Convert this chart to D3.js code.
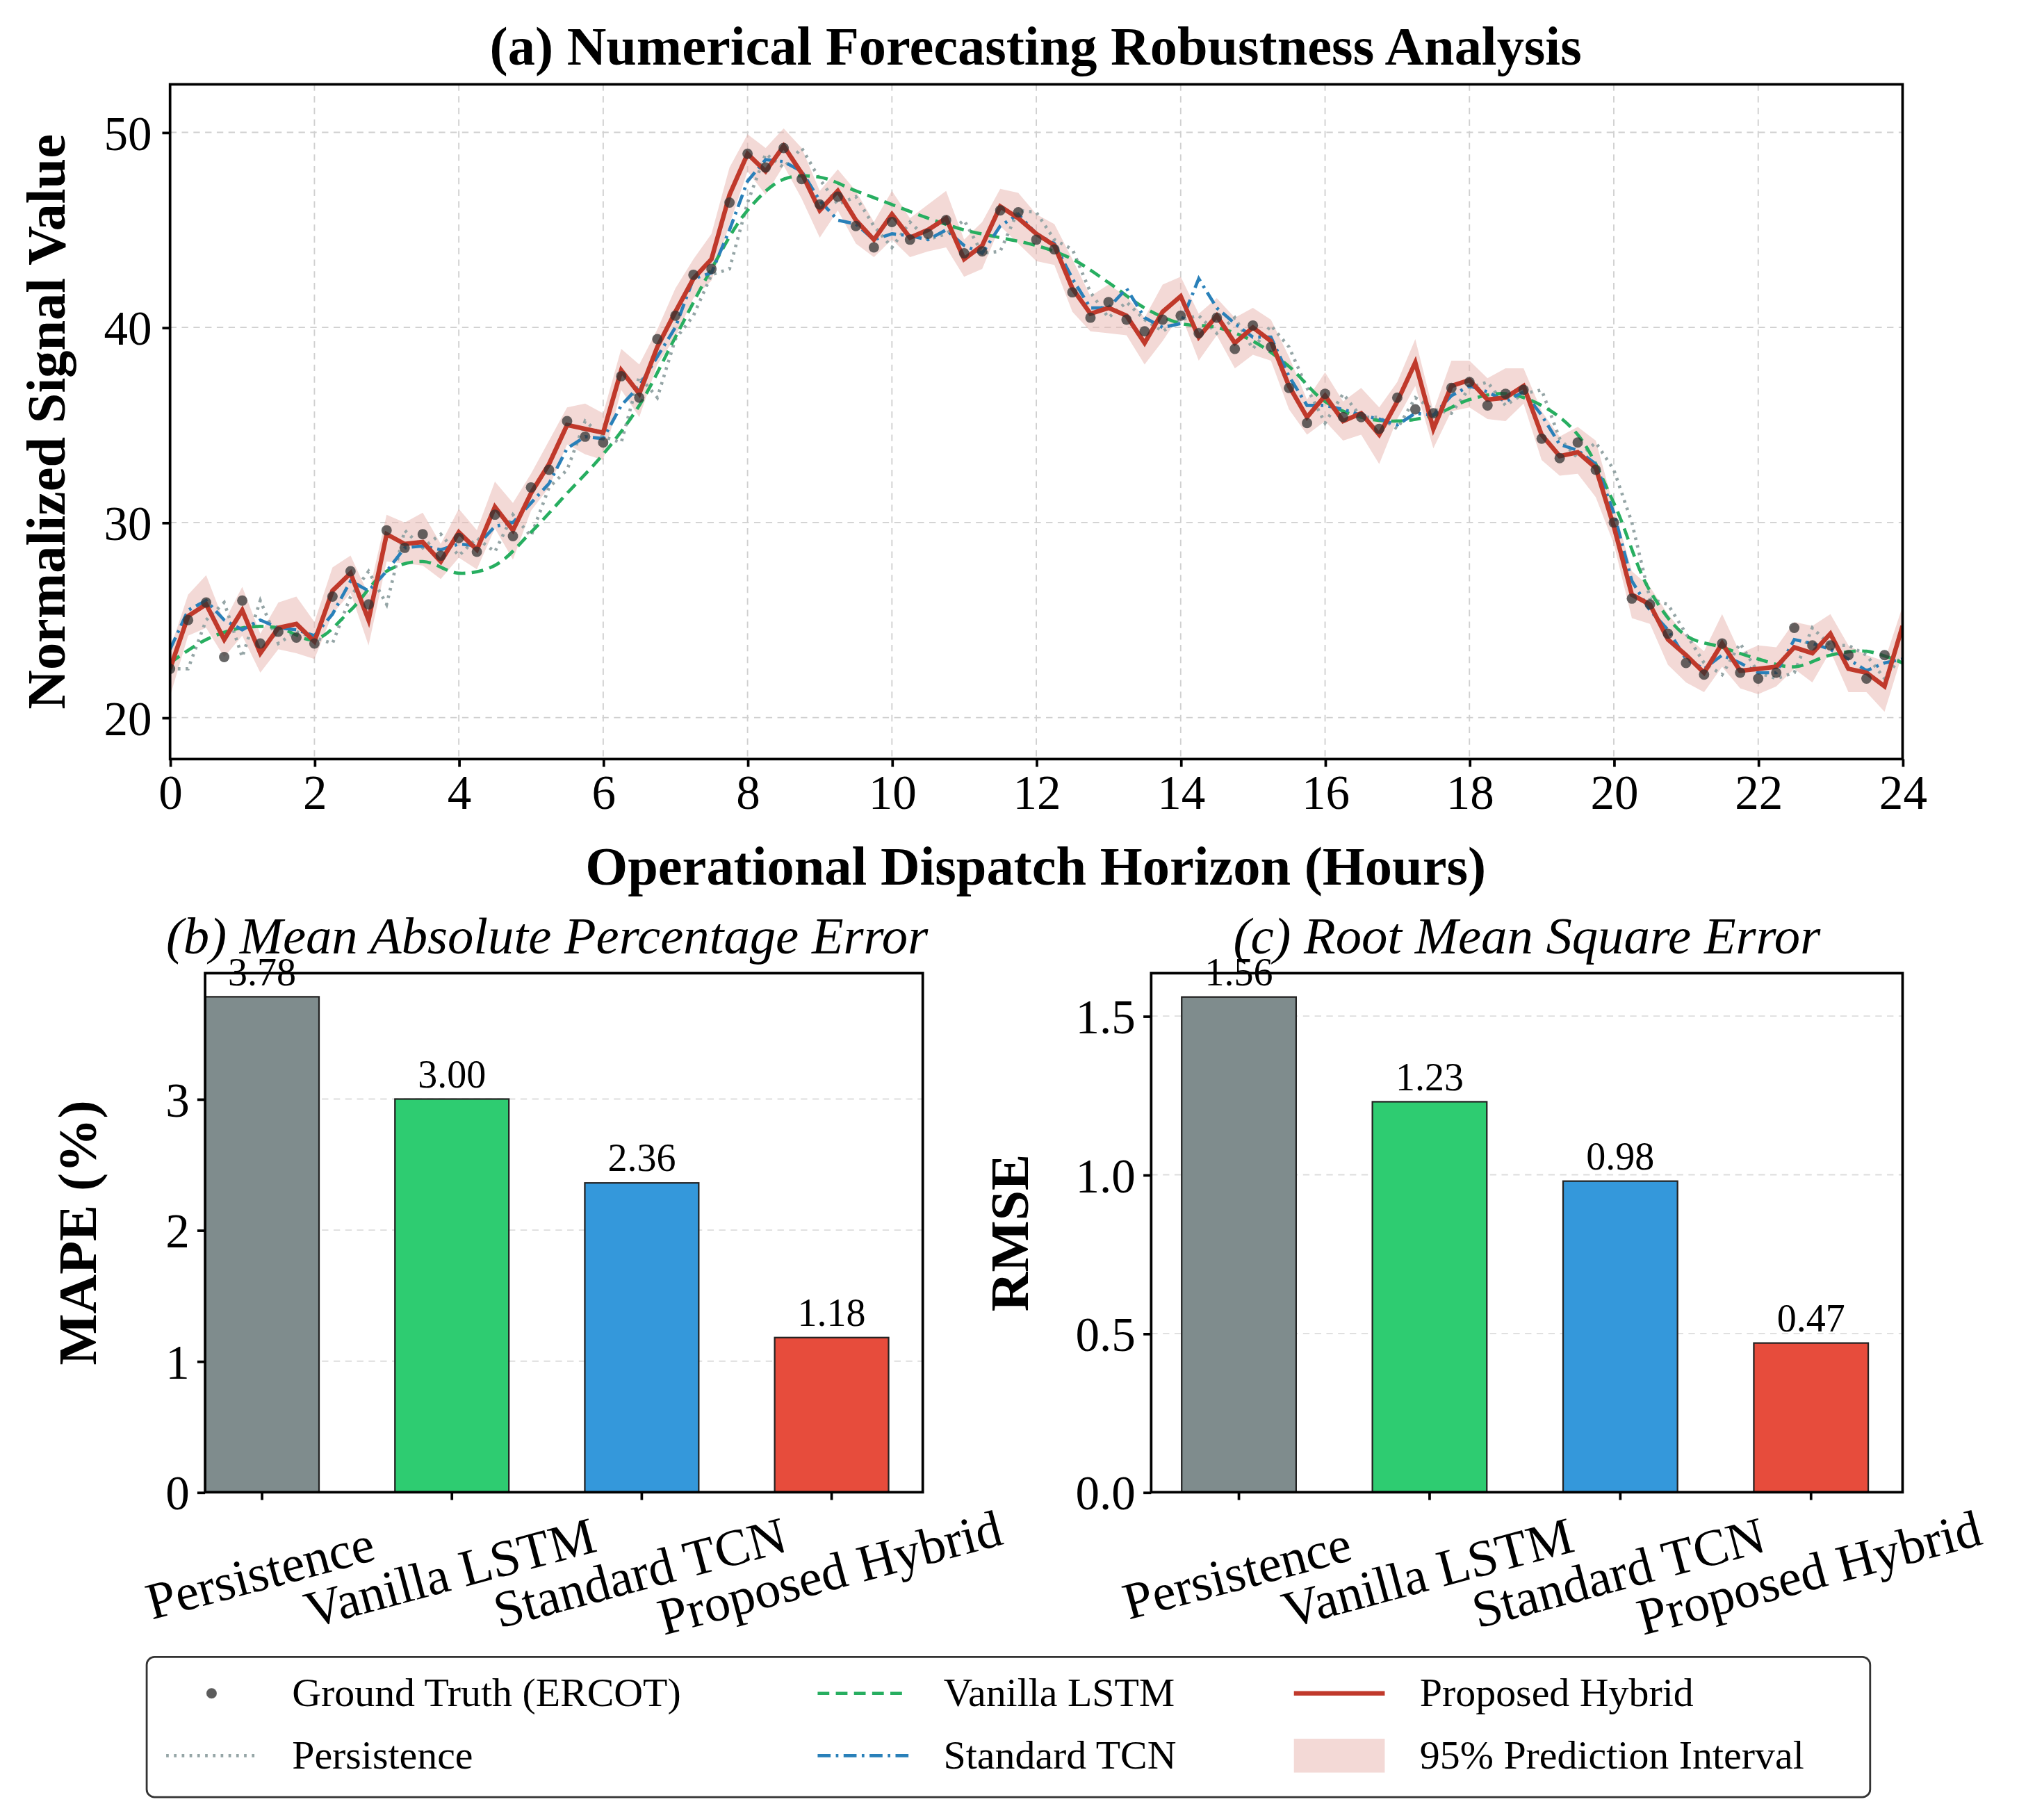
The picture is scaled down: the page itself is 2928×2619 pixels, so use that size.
<!DOCTYPE html>
<html><head><meta charset="utf-8">
<script src="https://cdn.jsdelivr.net/npm/d3@7"></script>
<style>body{margin:0;background:#fff}text{font-family:"Liberation Serif","Times New Roman",serif}</style>
</head><body>
<svg id="c" width="2928" height="2619" viewBox="0 0 1568 1402.6"></svg>
<script>
// ---- data ----
const truth = [22.5,25.0,25.9,23.1,26.0,23.8,24.4,24.1,23.8,26.2,27.5,25.8,29.6,28.7,29.4,28.3,29.2,28.5,30.4,29.3,31.8,32.7,35.2,34.4,34.1,37.5,36.4,39.4,40.6,42.7,43.0,46.4,48.9,
48.2,49.2,47.6,46.3,46.7,45.2,44.1,45.4,44.5,44.8,45.5,43.8,43.9,46.0,45.9,44.5,44.0,41.8,40.5,41.3,40.4,39.8,40.4,40.6,39.7,40.5,38.9,40.1,39.0,36.9,35.1,36.6,
35.4,35.4,34.8,36.4,35.8,35.6,36.9,37.2,36.0,36.6,36.8,34.3,33.3,34.1,32.7,30.0,26.1,25.8,24.3,22.8,22.2,23.8,22.3,22.0,22.3,24.6,23.7,23.7,23.2,22.0,23.2];
const persistence = [22.5,22.5,25.0,25.9,23.1,26.0,23.8,24.4,24.1,23.8,26.2,27.5,25.8,29.6,28.7,29.4,28.3,29.2,28.5,30.4,29.3,31.8,32.7,35.2,34.4,34.1,37.5,36.4,39.4,40.6,42.7,43.0,46.4,48.9,
48.2,49.2,47.6,46.3,46.7,45.2,44.1,45.4,44.5,44.8,45.5,43.8,43.9,46.0,45.9,44.5,44.0,41.8,40.5,41.3,40.4,39.8,40.4,40.6,39.7,40.5,38.9,40.1,39.0,36.9,35.1,
36.6,35.4,35.4,34.8,36.4,35.8,35.6,36.9,37.2,36.0,36.6,36.8,34.3,33.3,34.1,32.7,30.0,26.1,25.8,24.3,22.8,22.2,23.8,22.3,22.0,22.3,24.6,23.7,23.7,23.2,22.0,23.2];
const lstm = [22.8,24.0,24.6,24.6,24.0,25.5,27.5,28.0,27.4,27.8,29.5,31.5,33.5,36.0,39.5,43.0,46.0,47.6,47.7,47.0,46.3,45.6,45.0,44.6,44.2,43.5,42.3,41.0,40.2,40.0,39.3,38.0,36.2,35.4,35.2,35.5,36.3,36.6,36.0,34.5,31.0,26.5,24.2,23.6,23.0,22.6,23.2,23.4,22.8];
const tcn = [23.5,25.5,26.0,25.0,24.5,25.0,24.6,24.5,24.2,25.3,27.0,26.5,27.5,28.7,28.8,28.6,28.9,28.8,29.8,30.0,31.0,32.0,33.8,34.4,34.3,36.0,37.0,38.5,40.0,42.5,42.8,45.0,47.5,
48.6,48.5,48.0,46.5,45.5,45.3,44.5,44.8,44.7,44.5,45.0,44.2,43.8,45.2,45.8,44.8,44.3,42.5,41.0,41.0,42.0,40.5,40.0,40.2,42.5,41.0,40.2,39.5,39.5,37.5,36.0,36.0,
35.8,35.5,35.3,35.0,35.6,35.5,36.5,37.0,36.7,36.2,36.7,35.5,34.0,33.7,33.0,30.5,27.0,25.5,24.5,23.0,22.5,23.2,22.8,22.3,22.3,24.0,23.8,23.5,23.0,22.4,22.8,23.0];
const hybrid = [22.5,25.2,25.8,24.0,25.5,23.3,24.6,24.8,23.9,26.5,27.4,25.0,29.4,28.9,29.0,28.0,29.5,28.6,30.8,29.6,31.5,33.0,35.0,34.8,34.6,37.8,36.6,39.0,40.8,42.5,43.5,46.8,48.9,
48.0,49.3,47.9,46.0,47.0,45.5,44.5,45.8,44.6,45.0,45.6,43.5,44.2,46.2,45.6,44.8,44.2,42.0,40.7,41.0,40.6,39.2,40.8,41.6,39.5,40.6,39.2,40.0,39.3,37.0,35.4,36.5,
35.2,35.6,34.5,36.2,38.2,34.8,37.0,37.3,36.3,36.4,37.0,34.5,33.4,33.6,32.8,29.8,26.3,25.8,24.0,23.2,22.3,23.8,22.4,22.5,22.6,23.6,23.3,24.3,22.5,22.3,21.6,24.7];
const piHalfWidth = [1.4,1.0,1.2,0.9,1.3,1.0,1.1,1.5,0.9,1.2,1.0,1.3];
const models = ["Persistence","Vanilla LSTM","Standard TCN","Proposed Hybrid"];
const mape = [3.78,3.00,2.36,1.18];
const rmse = [1.56,1.23,0.98,0.47];
const barColors = ["#7f8c8d","#2ecc71","#3498db","#e74c3c"];
const hourTicks = [0,2,4,6,8,10,12,14,16,18,20,22,24];
const signalTicks = [20,30,40,50];
const mapeTicks = [0,1,2,3];
const rmseTicks = [0,0.5,1.0,1.5];

const svg = d3.select("#c");
// ---- top chart ----
const T = {l:131,r:1466,t:65,b:585};
const x = d3.scaleLinear().domain([0,24]).range([T.l,T.r]);
const y = d3.scaleLinear().domain([20,50]).range([553,102]);
const topG = svg.append("g");
const grid = topG.append("g").attr("stroke","#d0d0d0").attr("stroke-dasharray","5,4").attr("stroke-width",1);
hourTicks.forEach(h=>grid.append("line").attr("x1",x(h)).attr("x2",x(h)).attr("y1",T.t).attr("y2",T.b));
signalTicks.forEach(v=>grid.append("line").attr("y1",y(v)).attr("y2",y(v)).attr("x1",T.l).attr("x2",T.r));
svg.append("defs").append("clipPath").attr("id","cp").append("rect").attr("x",T.l).attr("y",T.t).attr("width",T.r-T.l).attr("height",T.b-T.t);
const P = topG.append("g").attr("clip-path","url(#cp)");
const q = 0.25;
P.append("path").datum(hybrid).attr("fill","#e8b4ae").attr("opacity",0.5)
 .attr("d",d3.area().x((d,i)=>x(i*q)).y0((d,i)=>y(d-piHalfWidth[i%piHalfWidth.length])).y1((d,i)=>y(d+piHalfWidth[(i+5)%piHalfWidth.length])));
const line = (arr,st)=>d3.line().x((d,i)=>x(i*st)).y(d=>y(d))(arr);
P.append("path").attr("d",line(persistence,q)).attr("fill","none").attr("stroke","#95a5a6").attr("stroke-width",2.5).attr("stroke-dasharray","2,4");
P.append("path").attr("d",d3.line().x((d,i)=>x(i*0.5)).y(d=>y(d)).curve(d3.curveCatmullRom)(lstm)).attr("fill","none").attr("stroke","#27ae60").attr("stroke-width",2.5).attr("stroke-dasharray","9,5");
P.append("path").attr("d",line(tcn,q)).attr("fill","none").attr("stroke","#2980b9").attr("stroke-width",2.5).attr("stroke-dasharray","10,4,2,4");
P.append("path").attr("d",line(hybrid,q)).attr("fill","none").attr("stroke","#c0392b").attr("stroke-width",3.5);
P.selectAll("circle").data(truth).join("circle").attr("cx",(d,i)=>x(i*q)).attr("cy",d=>y(d)).attr("r",4).attr("fill","#333").attr("opacity",0.75);
topG.append("rect").attr("x",T.l).attr("y",T.t).attr("width",T.r-T.l).attr("height",T.b-T.t).attr("fill","none").attr("stroke","#000").attr("stroke-width",2);
const xa = topG.append("g").attr("transform",`translate(0,${T.b})`).call(d3.axisBottom(x).tickValues(hourTicks).tickSize(6).tickPadding(6));
xa.select(".domain").remove(); xa.selectAll("line").attr("stroke-width",2);
xa.selectAll("text").attr("font-size",37).attr("fill","#000").attr("font-family","Liberation Serif");
const ya = topG.append("g").attr("transform",`translate(${T.l},0)`).call(d3.axisLeft(y).tickValues(signalTicks).tickSize(6).tickPadding(8));
ya.select(".domain").remove(); ya.selectAll("line").attr("stroke-width",2);
ya.selectAll("text").attr("font-size",37).attr("fill","#000").attr("font-family","Liberation Serif").attr("dy","0.35em");
svg.append("text").attr("x",798).attr("y",50).attr("text-anchor","middle").attr("font-weight","bold").attr("font-size",42).text("(a) Numerical Forecasting Robustness Analysis");
svg.append("text").attr("x",798).attr("y",682).attr("text-anchor","middle").attr("font-weight","bold").attr("font-size",42).text("Operational Dispatch Horizon (Hours)");
svg.append("text").attr("transform","translate(50,325) rotate(-90)").attr("text-anchor","middle").attr("font-weight","bold").attr("font-size",42).text("Normalized Signal Value");

// ---- bar charts ----
function bars(cfg){
  const g = svg.append("g");
  const bx = d3.scaleLinear().domain(cfg.xd).range([cfg.l,cfg.r]);
  const by = d3.scaleLinear().domain([0,cfg.ymax]).range([cfg.b,cfg.t]);
  cfg.ticks.forEach(v=>g.append("line").attr("x1",cfg.l).attr("x2",cfg.r).attr("y1",by(v)).attr("y2",by(v)).attr("stroke","#ddd").attr("stroke-dasharray","5,4"));
  const bw = bx(0.6)-bx(0);
  g.selectAll("rect.b").data(cfg.vals).join("rect").attr("x",(d,i)=>bx(i)-bw/2).attr("width",bw)
   .attr("y",d=>by(d)).attr("height",d=>by(0)-by(d)).attr("fill",(d,i)=>barColors[i]).attr("stroke","#222").attr("stroke-width",1.2);
  g.selectAll("text.v").data(cfg.vals).join("text").attr("x",(d,i)=>bx(i)).attr("y",d=>by(d)-9).attr("text-anchor","middle").attr("font-size",30).text(d=>d.toFixed(2));
  g.append("rect").attr("x",cfg.l).attr("y",cfg.t).attr("width",cfg.r-cfg.l).attr("height",cfg.b-cfg.t).attr("fill","none").attr("stroke","#000").attr("stroke-width",2);
  const ax = g.append("g").attr("transform",`translate(${cfg.l},0)`).call(d3.axisLeft(by).tickValues(cfg.ticks).tickFormat(cfg.fmt).tickSize(6).tickPadding(6));
  ax.select(".domain").remove(); ax.selectAll("line").attr("stroke-width",2);
  ax.selectAll("text").attr("font-size",37).attr("fill","#000").attr("font-family","Liberation Serif").attr("dy","0.35em");
  models.forEach((m,i)=>{
    g.append("line").attr("x1",bx(i)).attr("x2",bx(i)).attr("y1",cfg.b).attr("y2",cfg.b+6).attr("stroke","#000").attr("stroke-width",2);
    g.append("text").attr("transform",`translate(${bx(i)+2},${cfg.b+75}) rotate(-15)`).attr("text-anchor","middle").attr("font-size",40).text(m);
  });
  svg.append("text").attr("x",(cfg.l+cfg.r)/2+cfg.tdx).attr("y",735).attr("text-anchor","middle").attr("font-style","italic").attr("font-size",40).text(cfg.title);
  svg.append("text").attr("transform",`translate(${cfg.ylx},${(cfg.t+cfg.b)/2}) rotate(-90)`).attr("text-anchor","middle").attr("font-weight","bold").attr("font-size",42).text(cfg.ylabel);
}
bars({l:158,r:711,t:750,b:1150,xd:[-0.3,3.48],ymax:3.96,vals:mape,ticks:mapeTicks,fmt:d3.format("d"),title:"(b) Mean Absolute Percentage Error",tdx:-13,ylabel:"MAPE (%)",ylx:74});
bars({l:887,r:1466,t:750,b:1150,xd:[-0.46,3.48],ymax:1.635,vals:rmse,ticks:rmseTicks,fmt:d3.format(".1f"),title:"(c) Root Mean Square Error",tdx:0,ylabel:"RMSE",ylx:792});

// ---- legend ----
const L = svg.append("g");
L.append("rect").attr("x",113).attr("y",1277).attr("width",1328).attr("height",108).attr("rx",6).attr("fill","#fff").attr("stroke","#333").attr("stroke-width",1.5);
const items = [
 {c:128,r:1305,t:"Ground Truth (ERCOT)",k:"dot"},{c:128,r:1353,t:"Persistence",k:"pers"},
 {c:630,r:1305,t:"Vanilla LSTM",k:"lstm"},{c:630,r:1353,t:"Standard TCN",k:"tcn"},
 {c:997,r:1305,t:"Proposed Hybrid",k:"hyb"},{c:997,r:1353,t:"95% Prediction Interval",k:"pi"}];
items.forEach(it=>{
  const x0=it.c, x1=it.c+70, yy=it.r;
  if(it.k==="dot") L.append("circle").attr("cx",x0+35).attr("cy",yy).attr("r",4).attr("fill","#333").attr("opacity",0.8);
  if(it.k==="pers") L.append("line").attr("x1",x0).attr("x2",x1).attr("y1",yy).attr("y2",yy).attr("stroke","#95a5a6").attr("stroke-width",2.5).attr("stroke-dasharray","2,4");
  if(it.k==="lstm") L.append("line").attr("x1",x0).attr("x2",x1).attr("y1",yy).attr("y2",yy).attr("stroke","#27ae60").attr("stroke-width",2.5).attr("stroke-dasharray","9,5");
  if(it.k==="tcn") L.append("line").attr("x1",x0).attr("x2",x1).attr("y1",yy).attr("y2",yy).attr("stroke","#2980b9").attr("stroke-width",2.5).attr("stroke-dasharray","10,4,2,4");
  if(it.k==="hyb") L.append("line").attr("x1",x0).attr("x2",x1).attr("y1",yy).attr("y2",yy).attr("stroke","#c0392b").attr("stroke-width",3.5);
  if(it.k==="pi") L.append("rect").attr("x",x0).attr("y",yy-13).attr("width",70).attr("height",26).attr("fill","#e8b4ae").attr("opacity",0.5);
  L.append("text").attr("x",it.c+97).attr("y",yy+10).attr("font-size",31).text(it.t);
});
</script></body></html>
